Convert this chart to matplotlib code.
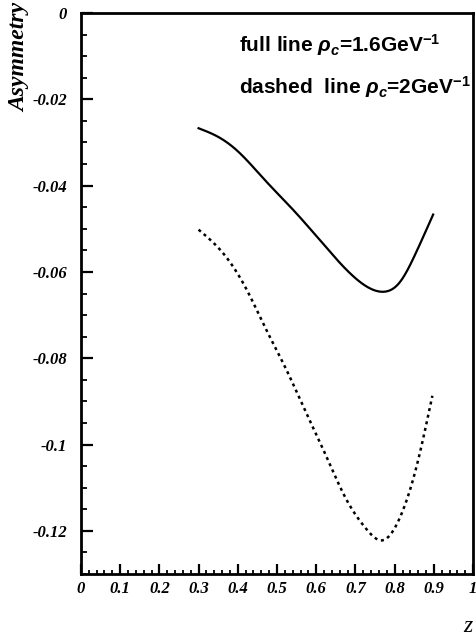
import numpy as np
import matplotlib.pyplot as plt
from matplotlib.ticker import MultipleLocator

# values
z_full = [0.300, 0.350, 0.396, 0.472, 0.540, 0.608, 0.676, 0.727, 0.769, 0.812, 0.854, 0.898]
asym_full = [-0.0267, -0.0287, -0.0317, -0.0390, -0.0455, -0.0525, -0.0594, -0.0633, -0.0646, -0.0625, -0.0556, -0.0467]

z_dash = [0.300, 0.362, 0.422, 0.472, 0.523, 0.574, 0.625, 0.676, 0.727, 0.769, 0.812, 0.854, 0.896]
asym_dash = [-0.0502, -0.0556, -0.0640, -0.0733, -0.0825, -0.0926, -0.1026, -0.1126, -0.1195, -0.1222, -0.1172, -0.1057, -0.0887]

xticks = [0, 0.1, 0.2, 0.3, 0.4, 0.5, 0.6, 0.7, 0.8, 0.9, 1]
xticklabels = ["0", "0.1", "0.2", "0.3", "0.4", "0.5", "0.6", "0.7", "0.8", "0.9", "1"]
yticks = [0, -0.02, -0.04, -0.06, -0.08, -0.1, -0.12]
yticklabels = ["0", "-0.02", "-0.04", "-0.06", "-0.08", "-0.1", "-0.12"]


def spline(x, y, n=300):
    # natural cubic spline through the read points
    x = np.asarray(x, float)
    y = np.asarray(y, float)
    k = len(x)
    h = np.diff(x)
    A = np.zeros((k, k))
    r = np.zeros(k)
    A[0, 0] = A[-1, -1] = 1
    for i in range(1, k - 1):
        A[i, i - 1] = h[i - 1]
        A[i, i] = 2 * (h[i - 1] + h[i])
        A[i, i + 1] = h[i]
        r[i] = 6 * ((y[i + 1] - y[i]) / h[i] - (y[i] - y[i - 1]) / h[i - 1])
    M = np.linalg.solve(A, r)
    xs = np.linspace(x[0], x[-1], n)
    idx = np.clip(np.searchsorted(x, xs) - 1, 0, k - 2)
    x0, x1 = x[idx], x[idx + 1]
    hh = x1 - x0
    a = (x1 - xs) / hh
    b = (xs - x0) / hh
    ys = (a * y[idx] + b * y[idx + 1]
          + ((a**3 - a) * M[idx] + (b**3 - b) * M[idx + 1]) * hh**2 / 6)
    return xs, ys


plt.rcParams["mathtext.fontset"] = "custom"
plt.rcParams["mathtext.it"] = "Liberation Sans:bold:italic"
plt.rcParams["mathtext.rm"] = "Liberation Sans:bold"
plt.rcParams["mathtext.bf"] = "Liberation Sans:bold"

fig = plt.figure(figsize=(4.76, 6.36), dpi=100)
ax = fig.add_axes([0.170, 0.0975, 0.824, 0.882])

xs, ys = spline(z_full, asym_full)
ax.plot(xs, ys, color="black", lw=1.6)
xs, ys = spline(z_dash, asym_dash)
ax.plot(xs, ys, color="black", lw=1.8, linestyle=(0, (1.2, 1.5)))

ax.set_xlim(0, 1)
ax.set_ylim(-0.13, 0)

serif = {"family": "Liberation Serif", "weight": "bold", "style": "italic", "size": 12}
ax.set_xticks(xticks)
ax.set_xticklabels(xticklabels, fontdict=serif)
ax.set_yticks(yticks)
ax.set_yticklabels(yticklabels, fontdict=serif)
ax.xaxis.set_minor_locator(MultipleLocator(0.02))
ax.yaxis.set_minor_locator(MultipleLocator(0.005))

ax.tick_params(axis="x", which="major", direction="in", length=7, width=1.6, pad=5)
ax.tick_params(axis="x", which="minor", direction="in", length=3, width=1.3)
ax.tick_params(axis="y", which="major", direction="in", length=8.5, width=1.6, pad=10)
ax.tick_params(axis="y", which="minor", direction="in", length=4.5, width=1.3)
for s in ax.spines.values():
    s.set_linewidth(2)

fig.text(0.042, 0.91, "Asymmetry", rotation=90, ha="center", va="center",
         family="Liberation Serif", weight="bold", style="italic", fontsize=17)
fig.text(0.983, 0.015, "z", ha="center", va="center",
         family="Liberation Serif", style="italic", fontsize=17)

sans = {"family": "Liberation Sans", "weight": "bold", "fontsize": 15}
ax.text(0.403, 0.943, r"full line $\rho_c$=1.6GeV$^{-1}$", transform=ax.transAxes,
        ha="left", va="center", **sans)
ax.text(0.403, 0.868, r"dashed  line $\rho_c$=2GeV$^{-1}$", transform=ax.transAxes,
        ha="left", va="center", **sans)

fig.savefig("out.png", dpi=100)
